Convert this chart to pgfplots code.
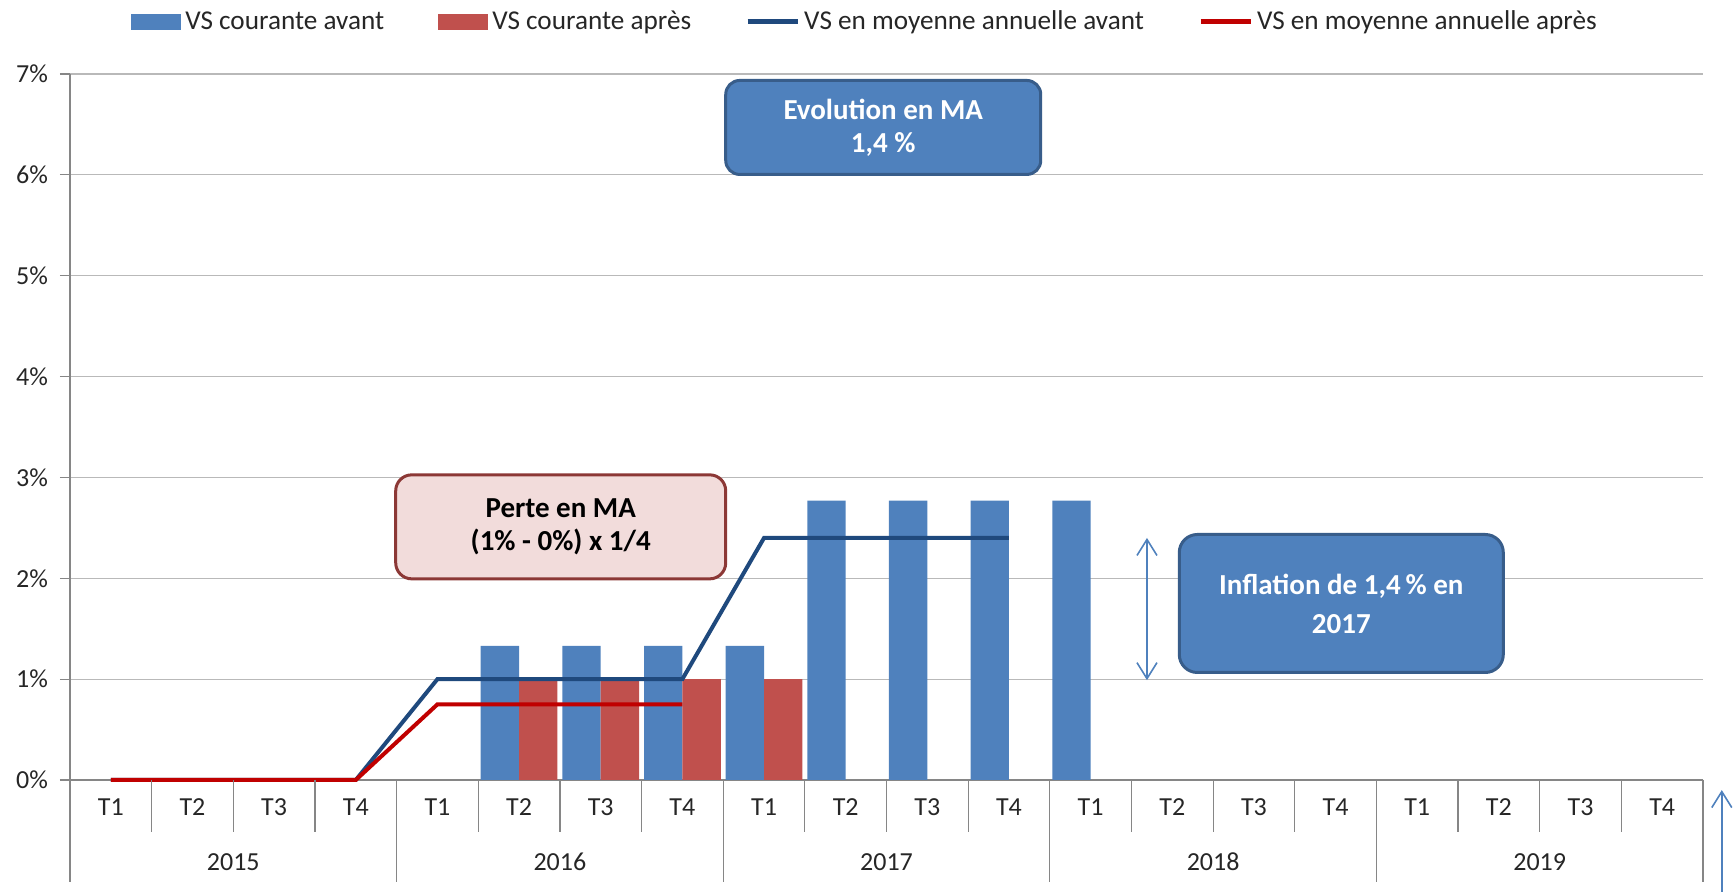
\documentclass[border=0pt]{standalone}
\usepackage{fontspec}
\setmainfont{Carlito}
\usepackage{pgfplots}
\pgfplotsset{compat=1.18}
\usetikzlibrary{arrows.meta}
\definecolor{barblue}{RGB}{79,129,189}
\definecolor{barred}{RGB}{192,80,77}
\definecolor{lineblue}{RGB}{31,73,125}
\definecolor{linered}{RGB}{192,0,0}
\definecolor{axgray}{RGB}{134,134,134}
\definecolor{gridgray}{RGB}{185,185,185}
\definecolor{boxborder}{RGB}{56,93,138}
\definecolor{pinkfill}{RGB}{242,220,219}
\definecolor{pinkborder}{RGB}{140,56,54}
\begin{document}
\begin{tikzpicture}[font=\fontsize{13}{15}\selectfont]
\begin{axis}[
  name=ax,
  at={(0,0)}, anchor=south west,
  scale only axis, width=816.5pt, height=353pt,
  xmin=-0.5, xmax=19.5, ymin=0, ymax=7,
  axis lines*=left,
  axis line style={axgray, line width=0.6pt},
  xtick=\empty,
  ytick={0,...,7},
  yticklabel={\pgfmathprintnumber{\tick}\%},
  yticklabel style={xshift=-2.5pt, text=black!85},
  /pgf/number format/assume math mode=true,
  ymajorgrids, grid style={gridgray, line width=0.6pt},
  tick style={axgray, line width=0.6pt},
  major tick length=5pt, tick align=outside,
  clip=false,
  legend columns=4,
  legend style={at={(0.4875,1.074)}, anchor=center, draw=none, fill=none,
    font=\fontsize{13.6}{15}\selectfont,
    /tikz/every even column/.append style={column sep=25pt},
    nodes={inner sep=2pt, text=black!85}},
]
\addplot[ybar, bar width=0.47, bar shift=-0.235, fill=barblue, draw=none,
  legend image code/.code={\fill[barblue] (0pt,-4pt) rectangle (25pt,4pt);}]
  coordinates {(5,1.33)(6,1.33)(7,1.33)(8,1.33)(9,2.77)(10,2.77)(11,2.77)(12,2.77)};
\addlegendentry{VS courante avant}
\addplot[ybar, bar width=0.47, bar shift=0.235, fill=barred, draw=none,
  legend image code/.code={\fill[barred] (0pt,-4pt) rectangle (25pt,4pt);}]
  coordinates {(5,1.0)(6,1.0)(7,1.0)(8,1.0)};
\addlegendentry{VS courante après}
\addplot[sharp plot, lineblue, line width=2pt, mark=none,
  legend image code/.code={\draw[lineblue, line width=2.5pt] (0pt,0pt) -- (25pt,0pt);}]
  coordinates {(0,0)(1,0)(2,0)(3,0)(4,1.0)(5,1.0)(6,1.0)(7,1.0)(8,2.4)(9,2.4)(10,2.4)(11,2.4)};
\addlegendentry{VS en moyenne annuelle avant}
\addplot[sharp plot, linered, line width=2pt, mark=none,
  legend image code/.code={\draw[linered, line width=2.5pt] (0pt,0pt) -- (25pt,0pt);}]
  coordinates {(0,0)(1,0)(2,0)(3,0)(4,0.75)(5,0.75)(6,0.75)(7,0.75)};
\addlegendentry{VS en moyenne annuelle après}

% category separators
\pgfplotsinvokeforeach{0,...,20}{\draw[axgray, line width=0.6pt] (axis cs:#1-0.5,0) -- ++(0pt,-26pt);}
\pgfplotsinvokeforeach{0,4,...,20}{\draw[axgray, line width=0.6pt] (axis cs:#1-0.5,0) -- ++(0pt,-51pt);}
\pgfplotsinvokeforeach{0,4,8,12,16}{
  \node[text=black!85] at (axis cs:#1,0) [yshift=-13.5pt] {T1};
  \node[text=black!85] at (axis cs:#1+1,0) [yshift=-13.5pt] {T2};
  \node[text=black!85] at (axis cs:#1+2,0) [yshift=-13.5pt] {T3};
  \node[text=black!85] at (axis cs:#1+3,0) [yshift=-13.5pt] {T4};
}
\node[text=black!85] at (axis cs:1.5,0) [yshift=-41pt] {2015};
\node[text=black!85] at (axis cs:5.5,0) [yshift=-41pt] {2016};
\node[text=black!85] at (axis cs:9.5,0) [yshift=-41pt] {2017};
\node[text=black!85] at (axis cs:13.5,0) [yshift=-41pt] {2018};
\node[text=black!85] at (axis cs:17.5,0) [yshift=-41pt] {2019};

% annotation boxes
\node[fill=barblue, draw=boxborder, line width=1.5pt, rounded corners=7pt,
  minimum width=157.5pt, minimum height=47pt, text=white, align=center,
  font=\bfseries\fontsize{14.5}{16.5}\selectfont] at (axis cs:9.46,6.47)
  {Evolution en MA\\1,4 \%};
\node[fill=pinkfill, draw=pinkborder, line width=1.5pt, rounded corners=8pt,
  minimum width=165pt, minimum height=52pt, text=black, align=center,
  font=\bfseries\fontsize{14.5}{16.5}\selectfont] at (axis cs:5.51,2.51)
  {Perte en MA\\(1\% - 0\%) x 1/4};
\node[fill=barblue, draw=boxborder, line width=1.5pt, rounded corners=9pt,
  minimum width=162pt, minimum height=69pt, text=white, align=center,
  font=\bfseries\fontsize{14.5}{19.5}\selectfont] at (axis cs:15.07,1.75)
  {Inflation de 1,4\,\% en\\2017};
\draw[barblue, line width=0.8pt, {Straight Barb[length=8pt,width=10pt]}-{Straight Barb[length=8pt,width=10pt]}]
  (axis cs:12.69,2.40) -- (axis cs:12.69,0.99);
\draw[barblue, line width=0.8pt, {Straight Barb[length=8pt,width=10pt]}-{Straight Barb[length=8pt,width=10pt]}]
  (axis cs:19.73,-0.1) -- (axis cs:19.73,-1.6);
\end{axis}
\pgfresetboundingbox
\path (ax.south west) ++(-35pt,-56pt) coordinate (bl);
\useasboundingbox (bl) rectangle ++(866.5pt,446pt);
\end{tikzpicture}
\end{document}
